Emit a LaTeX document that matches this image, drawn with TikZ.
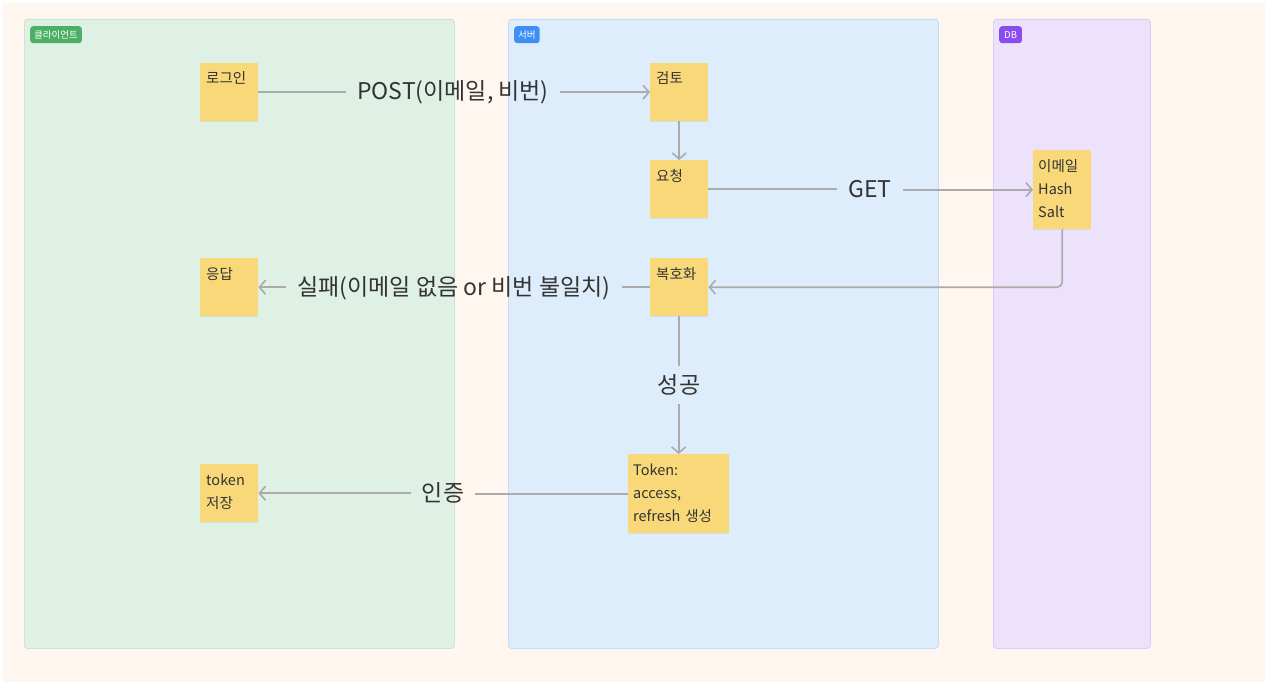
\documentclass[tikz,border=0pt]{standalone}
\usepackage{fontspec}
\setmainfont{Noto Sans CJK KR}
\usetikzlibrary{arrows.meta,shadows}
\definecolor{bgcream}{HTML}{FEF6EF}
\definecolor{lanegreen}{HTML}{DFF0E5}
\definecolor{lanegreenb}{HTML}{C9E6D2}
\definecolor{laneblue}{HTML}{DDEDFC}
\definecolor{laneblueb}{HTML}{C4DCF4}
\definecolor{lanepurple}{HTML}{ECE2FC}
\definecolor{lanepurpleb}{HTML}{DCCDF6}
\definecolor{taggreen}{HTML}{4CAF64}
\definecolor{tagblue}{HTML}{3E8EF7}
\definecolor{tagpurple}{HTML}{8A4CF0}
\definecolor{stickyfill}{HTML}{F8D878}
\definecolor{conngray}{HTML}{ABABAB}
\definecolor{ink}{HTML}{333333}
\begin{document}
\begin{tikzpicture}[x=1pt,y=-1pt,
  lanebox/.style={anchor=north west, rounded corners=3pt, line width=0.8pt, inner sep=0pt},
  tagbox/.style={anchor=north west, rounded corners=3pt, text=white, inner xsep=4pt, inner ysep=0pt,
    minimum height=17pt, font=\fontsize{9.5pt}{10pt}\selectfont},
  stickybox/.style={anchor=north west, fill=stickyfill, inner sep=0pt,
    drop shadow={opacity=0.12, shadow xshift=0pt, shadow yshift=-1pt}},
  stxt/.style={anchor=base west, inner sep=0pt, text=ink, align=left, text width=100pt,
    font=\fontsize{14.5pt}{23pt}\selectfont},
  lbl/.style={text=ink, inner xsep=11pt, inner ysep=10pt, text height=17pt, text depth=1pt,
    font=\fontsize{23pt}{26pt}\selectfont},
  connline/.style={draw=conngray, line width=1.6pt},
  arr/.style={connline, -{Straight Barb[length=6pt,width=14pt,line width=1.6pt]}},
]
% page
\fill[white] (0,0) rectangle (1265,682);
\fill[bgcream] (3,3) rectangle (1265,682);

% lanes
\node[lanebox, fill=lanegreen, draw=lanegreenb, minimum width=430pt, minimum height=629pt] (client) at (24,19) {};
\node[lanebox, fill=laneblue, draw=laneblueb, minimum width=430pt, minimum height=629pt] (server) at (508,19) {};
\node[lanebox, fill=lanepurple, draw=lanepurpleb, minimum width=157pt, minimum height=629pt] (db) at (993,19) {};

\node[tagbox, fill=taggreen] (tclient) at (30,26) {클라이언트};
\node[tagbox, fill=tagblue] (tserver) at (514,26) {서버};
\node[tagbox, fill=tagpurple, inner xsep=5pt] (tdb) at (999,26) {DB};

% stickies
\node[stickybox, minimum width=58pt, minimum height=58pt] (login) at (200,63) {};
\node[stickybox, minimum width=58pt, minimum height=58pt] (review) at (650,63) {};
\node[stickybox, minimum width=58pt, minimum height=58pt] (request) at (650,160) {};
\node[stickybox, minimum width=58pt, minimum height=79pt] (dbnote) at (1033,150) {};
\node[stickybox, minimum width=58pt, minimum height=58pt] (decrypt) at (650,258) {};
\node[stickybox, minimum width=58pt, minimum height=58pt] (resp) at (200,258) {};
\node[stickybox, minimum width=101pt, minimum height=79pt] (tokgen) at (628,454) {};
\node[stickybox, minimum width=58pt, minimum height=58pt] (tokstore) at (200,464) {};

\node[stxt] (tlogin) at ([xshift=6pt,yshift=-21pt]login.north west) {로그인};
\node[stxt] (treview) at ([xshift=6pt,yshift=-21pt]review.north west) {검토};
\node[stxt] (trequest) at ([xshift=6pt,yshift=-21pt]request.north west) {요청};
\node[stxt] (tdbnote) at ([xshift=5pt,yshift=-21pt]dbnote.north west) {이메일\\Hash\\Salt};
\node[stxt] (tdecrypt) at ([xshift=6pt,yshift=-21pt]decrypt.north west) {복호화};
\node[stxt] (tresp) at ([xshift=6pt,yshift=-21pt]resp.north west) {응답};
\node[stxt] (ttokgen) at ([xshift=5pt,yshift=-21.5pt]tokgen.north west) {Token:\\access,\\refresh 생성};
\node[stxt] (ttokstore) at ([xshift=6pt,yshift=-21.5pt]tokstore.north west) {token\\저장};

% labels
\node[lbl] (lpost) at (453,92) {POST(이메일, 비번)};
\node[lbl] (lget) at (870,189) {GET};
\node[lbl] (lfail) at (454,287) {실패(이메일 없음 or 비번 불일치)};
\node[lbl] (lsucc) at (679,385) {성공};
\node[lbl] (lauth) at (443,493) {인증};

% connectors
\draw[connline] (login.east) -- (login.east -| lpost.west);
\draw[arr] (lpost.east |- review.west) -- (review.west);
\draw[arr] (review.south) -- (request.north);
\draw[connline] (request.east) -- (request.east -| lget.west);
\draw[arr] (lget.east |- dbnote.west) -- (dbnote.west);
\draw[arr, rounded corners=5pt] (dbnote.south) -- (dbnote.south |- decrypt.east) -- (decrypt.east);
\draw[connline] (decrypt.west) -- (decrypt.west -| lfail.east);
\draw[arr] (lfail.west |- resp.east) -- (resp.east);
\draw[connline] (decrypt.south) -- (decrypt.south |- lsucc.north);
\draw[arr] (lsucc.south -| tokgen.north) -- (tokgen.north);
\draw[connline] (tokgen.west) -- (tokgen.west -| lauth.east);
\draw[arr] (lauth.west |- tokstore.east) -- (tokstore.east);
\end{tikzpicture}
\end{document}
